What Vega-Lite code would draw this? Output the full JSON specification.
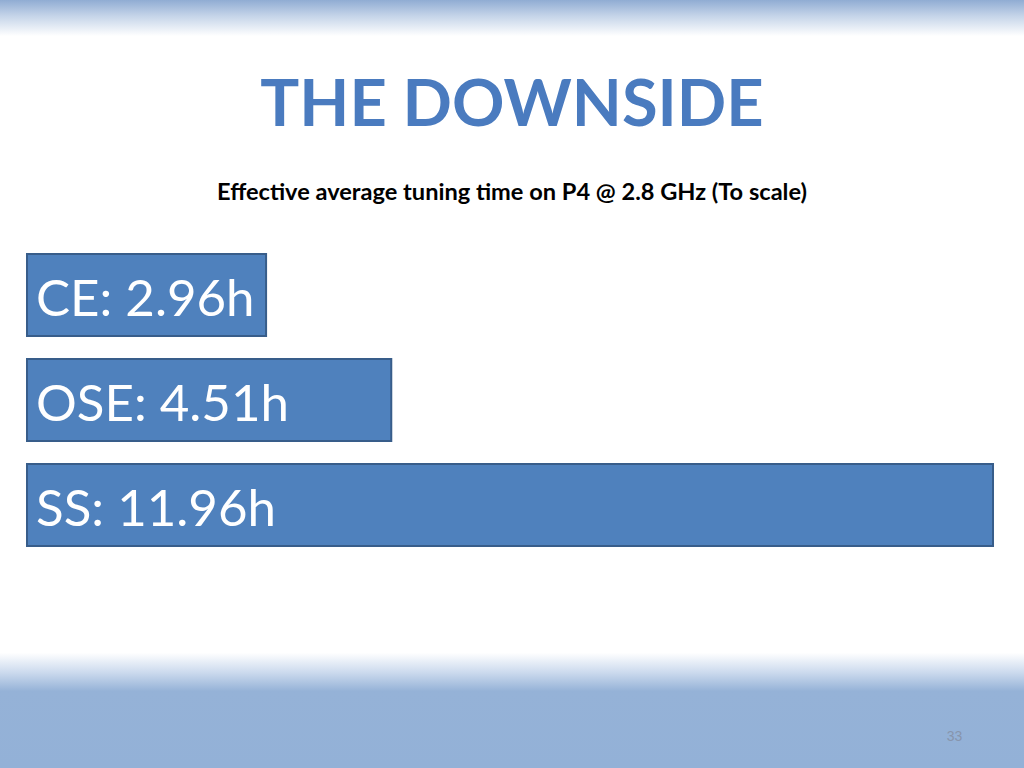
{
  "$schema": "https://vega.github.io/schema/vega-lite/v6.json",
  "width": 1024,
  "height": 768,
  "padding": 0,
  "autosize": {"type": "none"},
  "background": "white",
  "config": {
    "view": {
      "stroke": null,
      "fill": {
        "gradient": "linear",
        "x1": 0, "y1": 0, "x2": 0, "y2": 1,
        "stops": [
          {"offset": 0, "color": "#90acd3"},
          {"offset": 0.02, "color": "#c3d3e8"},
          {"offset": 0.047, "color": "#ffffff"},
          {"offset": 0.85, "color": "#ffffff"},
          {"offset": 0.875, "color": "#cddbee"},
          {"offset": 0.9, "color": "#95b2d7"},
          {"offset": 1, "color": "#93b1d7"}
        ]
      }
    },
    "font": "Lato"
  },
  "title": {
    "text": "THE DOWNSIDE",
    "subtitle": "Effective average tuning time on P4 @ 2.8 GHz (To scale)",
    "anchor": "middle",
    "orient": "top",
    "frame": "group",
    "offset": -206,
    "font": "Lato",
    "fontSize": 65,
    "fontWeight": "bold",
    "color": "#4a7bbf",
    "subtitleFont": "Lato",
    "subtitleFontSize": 23.6,
    "subtitleFontWeight": "bold",
    "subtitleColor": "#000000",
    "subtitlePadding": 41
  },
  "data": {
    "values": [
      {"name": "CE", "hours": 2.96, "label": "CE: 2.96h"},
      {"name": "OSE", "hours": 4.51, "label": "OSE: 4.51h"},
      {"name": "SS", "hours": 11.96, "label": "SS: 11.96h"}
    ]
  },
  "encoding": {
    "y": {
      "field": "name",
      "type": "nominal",
      "sort": ["CE", "OSE", "SS"],
      "scale": {"range": [254, 546], "paddingInner": 0.219, "paddingOuter": 0},
      "axis": null
    }
  },
  "layer": [
    {
      "mark": {"type": "bar", "fill": "#4f81bd", "stroke": "#385d8a", "strokeWidth": 2, "cornerRadius": 0},
      "encoding": {
        "x": {
          "field": "hours",
          "type": "quantitative",
          "scale": {"domain": [-0.3343, 12.3437], "nice": false, "zero": false},
          "axis": {
            "title": "33",
            "orient": "bottom",
            "domain": false,
            "ticks": false,
            "labels": false,
            "grid": false,
            "titleFont": "Liberation Sans",
            "titleFontSize": 14,
            "titleFontWeight": "normal",
            "titleColor": "#8795ad",
            "titleAlign": "center",
            "titleBaseline": "alphabetic",
            "titleX": 954,
            "titleY": -28
          }
        },
        "x2": {"datum": 0}
      }
    },
    {
      "mark": {"type": "text", "align": "left", "baseline": "middle", "dx": 9, "dy": 6, "fontSize": 51, "font": "Lato", "color": "white"},
      "encoding": {
        "x": {"datum": 0, "type": "quantitative"},
        "text": {"field": "label"}
      }
    }
  ]
}
